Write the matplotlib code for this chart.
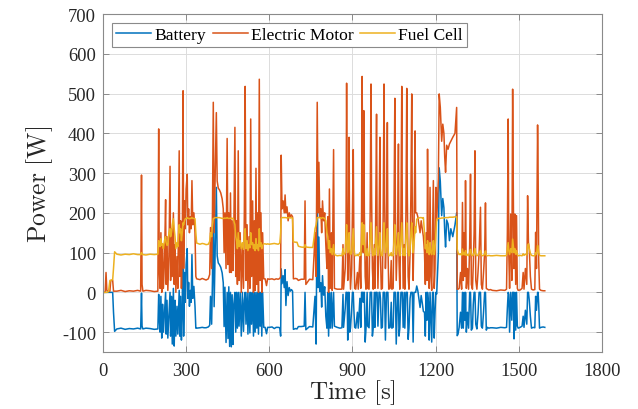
import matplotlib
matplotlib.use("Agg")
import matplotlib.pyplot as plt

# time axis [s] and the three power traces [W]
# (one row per stretch of the drive cycle so the lists stay aligned)
time_s = [
    0, 8, 11, 14, 20, 25, 28, 35, 38, 42, 50, 65, 80, 95, 110, 125, 136, 139, 141, 144, 155, 170, 185, 196,
    198, 201, 203, 206, 209, 212, 215, 218, 222, 226, 228, 231, 234, 238, 242, 244, 247, 250, 254, 257,
    260, 263, 267, 270, 275, 277, 280, 283, 286, 289, 291, 294, 297, 300, 304, 306, 309, 312, 315, 318,
    321, 324, 328, 332, 335,
    338, 350, 358, 365, 372, 380, 385,
    388, 392, 395, 398, 401, 404, 409, 412, 416, 420, 425, 430, 434, 437, 440, 444, 448, 451, 454, 457,
    460, 463, 466, 469, 472, 476, 479, 482, 485, 488, 491, 495, 499, 503, 507, 510, 513, 516, 520, 523,
    527, 530, 533, 536, 540, 543, 546, 549, 552, 555, 558, 561, 564, 567, 570, 573, 576, 580,
    585, 590, 594, 600, 610, 618, 625, 632, 638,
    641, 643, 646, 650, 654, 657, 660, 664, 668, 672, 676, 680, 684, 687, 695, 700, 705, 715, 726, 729,
    732, 745, 757,
    762, 765, 769, 773, 776, 779, 782, 786, 789, 792, 796, 800, 804, 808, 811, 814, 817, 820, 824, 827,
    832, 835,
    845, 855, 862, 866, 868, 874, 877, 879, 881, 883, 886, 888, 890, 893, 897, 900, 903, 905, 908, 912,
    918, 921, 927, 930, 933, 935, 937, 939, 941, 943, 946, 949, 953, 955, 960, 964, 967, 969, 972, 975,
    979, 981, 984, 987, 989, 992, 996, 999, 1001, 1004, 1008, 1011, 1014, 1016, 1019, 1023, 1026, 1028,
    1031, 1036, 1040, 1042, 1047, 1050, 1053, 1055, 1058, 1063, 1066, 1068, 1071, 1075, 1078, 1080,
    1083, 1087, 1089, 1093, 1096, 1098, 1101, 1104, 1108, 1111, 1114, 1116, 1119, 1122, 1126, 1128,
    1132, 1136, 1140, 1144, 1148, 1152, 1156, 1160, 1163, 1166, 1169, 1171, 1174, 1177, 1180, 1183,
    1186, 1189, 1192, 1195, 1198, 1201, 1204, 1207, 1210, 1213, 1217, 1222, 1226, 1230, 1233, 1236,
    1240, 1245, 1250, 1255, 1262, 1270, 1276, 1278,
    1281, 1285, 1290, 1294, 1297, 1300, 1303, 1306, 1308, 1311, 1315, 1319, 1323, 1326, 1329, 1333,
    1336, 1339, 1342, 1345, 1349, 1353, 1357, 1362, 1365, 1369, 1373, 1377, 1380, 1383, 1387, 1392, 1398,
    1405, 1420, 1435, 1450, 1456, 1459, 1462, 1464, 1467, 1471, 1475, 1478, 1481, 1483, 1486, 1489,
    1492, 1495, 1498, 1505, 1512, 1516, 1519, 1524, 1529, 1532, 1535, 1538, 1542, 1546, 1552, 1558,
    1561, 1564, 1568, 1570, 1572, 1575, 1580, 1588, 1594,
]

battery_w = [
    0, 0, 0, 0, 0, 0, 0, 0, -50, -98, -92, -90, -93, -91, -92, -90, -92, -2, -85, -92, -90, -91, -93, -92,
    -92, -5, -60, -100, -10, -115, -30, -100, -50, 0, -105, -20, -115, -60, 0, -110, -10, -130, 10, -135,
    -20, -110, -35, -105, 5, -110, -10, -120, -50, 330, -110, 50, -25, 70, 110, -15, 25, -35, 5, -25,
    95, -15, 15, -35, -90,
    -90, -89, -88, -89, -89, -87, -83,
    -10, -80, 30, 290, -36, 72, 264, 92, 74, 70, 63, 49, 24, -86, 13, -126, 0, -116, 14, -136,
    0, -137, -6, -131, -30, 0, -100, 0, -90, 0, -85, 0, -110, 0, -98, -20, 0, -80, 0, -105,
    0, -102, 0, -80, 0, -110, 0, -100, 0, -90, 0, -105, 0, -85, 0, -110, 0, -88,
    -88, -104, -88, -88, -87, -91, -88, -88, -89,
    -110, 59, 22, 42, 12, 57, -33, 27, -8, 12, 3, 7, 3, -93, -91, -92, -86, -86, -85, 0,
    -94, -86, -87,
    -40, -10, -130, 290, 12, 139, 2, 24, -37, 42, -7, 14, -60, -90, 0, -110, 0, -90, 0, -90,
    0, -85,
    -88, -90, -89, -5, -88, -40, 0, 0, 0, -120, 0, 0, -100, -90, -45, 0, 0, -40, -88, -90,
    -50, -90, -15, -88, 0, 0, 0, -25, 0, 0, -125, -90, 0, -85, -89, 0, 0, 0, -110, -90,
    0, -88, 0, 0, 0, -85, 0, 0, -15, -90, -88, 0, 0, 0, -120, 0, 0, 0,
    -90, -88, -25, -90, -88, 0, 0, 0, -130, 0, 0, -110, -90, 0, 0, 0,
    -88, 0, -90, 0, 0, 0, -118, -90, -15, 0, 0, 0, -125, 0, 0, 0,
    16, 4, -17, -38, -8, -27, -48, -50, -110, 0, -70, 0, -25, -120, 0, -60,
    -125, 0, 0, -115, -50, 0, -4, 45, 99, 313, 279, 193, 236, 213, 152, 114,
    182, 172, 130, 160, 140, 170, 200, -109,
    -105, -88, -50, -90, 0, -90, 0, -70, 0, -100, -50, -90, 0, 0, -95, -90,
    -30, 0, 0, -80, -92, -55, 0, 0, -85, -90, -50, 0, 0, -95, -88, -90, -89,
    -89, -90, -88, -89, -88, -40, 0, -5, -100, 0, -70, 0, 0, -117, 0, -95,
    0, -85, -90, -88, -85, -60, -88, -45, -80, 0, 0, -20, -60, -90, -88, -89,
    -10, -45, 0, 0, -30, -90, -88, -87, -88,
]

motor_w = [
    0, 0, 50, 5, 2, 3, 30, 30, 3, 3, 3, 5, 2, 4, 3, 5, 3, 295, 20, 3, 5, 4, 2, 3,
    3, 411, 60, 10, 150, 0, 120, 10, 80, 233, 20, 140, 5, 90, 317, 30, 160, 40, 200, 20,
    120, 0, 90, 10, 356, 40, 180, 10, 100, 507, 60, 230, 160, 260, 297, 170, 210, 150, 190, 160,
    281, 170, 200, 150, 40,
    34, 32, 35, 33, 31, 34, 45,
    163, 60, 200, 478, 150, 260, 452, 280, 262, 258, 250, 235, 210, 100, 200, 60, 387, 70, 200, 50,
    250, 50, 180, 55, 150, 415, 40, 180, 20, 356, 30, 150, 0, 120, 10, 200, 518, 30, 170, 0,
    140, 10, 436, 40, 230, 0, 180, 5, 312, 20, 200, 0, 536, 30, 200, 0, 150, 34,
    34, 17, 34, 33, 34, 32, 34, 33, 35,
    40, 345, 210, 230, 200, 245, 200, 215, 180, 200, 190, 195, 190, 34, 35, 34, 30, 33, 33, 230,
    20, 33, 32,
    100, 150, 40, 478, 200, 327, 190, 210, 150, 230, 180, 200, 120, 60, 190, 0, 260, 10, 150, 5,
    359, 10,
    8, 8, 8, 120, 8, 60, 180, 526, 200, 30, 150, 390, 100, 8, 60, 200, 359, 150, 10, 8,
    50, 8, 90, 10, 200, 543, 250, 100, 457, 200, 40, 8, 150, 10, 8, 200, 524, 250, 60, 8,
    120, 10, 200, 448, 150, 10, 150, 390, 100, 8, 10, 200, 524, 250, 60, 150, 427, 120,
    8, 10, 80, 8, 10, 200, 488, 200, 30, 150, 373, 80, 8, 200, 518, 200,
    10, 120, 8, 200, 513, 250, 40, 8, 100, 250, 499, 200, 30, 150, 406, 200,
    200, 190, 170, 150, 180, 160, 140, 100, 20, 150, 30, 360, 80, 10, 264, 40,
    5, 150, 281, 10, 60, 264, 180, 230, 285, 499, 465, 380, 423, 400, 340, 302,
    370, 360, 373, 380, 390, 400, 465, 8,
    8, 10, 50, 8, 226, 30, 150, 40, 281, 10, 60, 8, 120, 297, 20, 8,
    70, 150, 356, 30, 8, 50, 100, 214, 20, 8, 50, 100, 225, 10, 8, 6, 7,
    5, 4, 6, 5, 8, 150, 436, 100, 10, 197, 30, 511, 197, 60, 197, 20,
    193, 10, 5, 6, 10, 50, 8, 60, 20, 243, 126, 110, 40, 8, 6, 7,
    151, 60, 421, 293, 80, 8, 5, 4, 4,
]

fuel_cell_w = [
    0, 0, 0, 0, 2, 30, 30, 32, 60, 102, 96, 94, 96, 95, 97, 95, 95, 100, 97, 95, 94, 96, 95, 96,
    96, 130, 125, 115, 135, 118, 122, 110, 130, 140, 125, 118, 120, 150, 160, 140, 150, 170, 185, 160,
    140, 110, 125, 115, 170, 150, 160, 130, 150, 175, 170, 180, 185, 186, 188, 186, 186, 185, 186, 186,
    188, 186, 186, 185, 150,
    124, 121, 123, 122, 120, 121, 128,
    150, 140, 170, 186, 186, 188, 188, 188, 188, 188, 187, 186, 186, 186, 187, 186, 188, 186, 186, 186,
    186, 187, 186, 186, 180, 170, 140, 130, 110, 150, 115, 130, 110, 125, 108, 140, 160, 110, 130, 105,
    120, 112, 150, 120, 125, 110, 120, 105, 135, 110, 120, 105, 160, 115, 125, 110, 118, 122,
    122, 121, 122, 121, 122, 123, 122, 121, 124,
    150, 186, 188, 188, 188, 188, 188, 187, 188, 188, 187, 188, 187, 127, 126, 126, 116, 114, 113, 120,
    114, 113, 113,
    140, 160, 170, 188, 188, 188, 188, 186, 187, 188, 187, 186, 180, 150, 140, 110, 130, 100, 110, 95,
    120, 95,
    92, 93, 92, 110, 95, 100, 140, 170, 130, 100, 120, 150, 110, 95, 100, 130, 160, 120, 95, 92,
    95, 92, 100, 93, 130, 175, 140, 120, 170, 130, 100, 93, 110, 92, 93, 140, 175, 140, 100, 92,
    110, 94, 130, 165, 120, 93, 120, 150, 110, 92, 93, 130, 175, 140, 100, 120, 160, 110,
    92, 93, 100, 92, 93, 130, 170, 130, 95, 120, 150, 105, 92, 140, 175, 130,
    93, 110, 92, 140, 175, 140, 100, 92, 110, 150, 175, 140, 100, 120, 165, 150,
    184, 186, 187, 188, 188, 187, 188, 150, 110, 120, 100, 130, 105, 95, 125, 100,
    95, 110, 130, 95, 110, 150, 184, 185, 186, 186, 186, 187, 187, 187, 188, 188,
    188, 188, 189, 189, 189, 190, 190, 109,
    100, 95, 97, 93, 109, 95, 100, 94, 105, 93, 95, 92, 100, 108, 95, 92,
    94, 100, 110, 95, 92, 94, 98, 105, 94, 92, 93, 96, 104, 93, 92, 93, 92,
    92, 93, 92, 92, 93, 110, 125, 105, 95, 110, 100, 134, 115, 100, 110, 96,
    105, 95, 92, 93, 92, 97, 93, 96, 94, 115, 122, 110, 98, 93, 92, 92,
    100, 96, 118, 110, 100, 93, 92, 92, 92,
]

series_names = ["Battery", "Electric Motor", "Fuel Cell"]
x_ticks = [0, 300, 600, 900, 1200, 1500, 1800]
y_ticks = [-100, 0, 100, 200, 300, 400, 500, 600, 700]

# MATLAB default line colours
colors = ["#0072BD", "#D95319", "#EDB120"]

assert len(time_s) == len(battery_w) == len(motor_w) == len(fuel_cell_w), \
    (len(time_s), len(battery_w), len(motor_w), len(fuel_cell_w))

plt.rcParams["font.family"] = ["Liberation Serif", "DejaVu Serif"]
plt.rcParams["mathtext.fontset"] = "cm"

fig = plt.figure(figsize=(6.38, 4.10), dpi=100)
ax = fig.add_axes([0.1614, 0.139, 0.782, 0.8244])

for y, c, name in zip([battery_w, motor_w, fuel_cell_w], colors, series_names):
    ax.plot(time_s, y, color=c, lw=1.1, label=name)

ax.set_xlim(0, 1800)
ax.set_ylim(-150, 700)
ax.set_xticks(x_ticks)
ax.set_yticks(y_ticks)
ax.set_xticklabels([str(v) for v in x_ticks])
ax.set_yticklabels([str(v) for v in y_ticks])

ax.grid(True, color="#dcdcdc", lw=0.7)
ax.set_axisbelow(True)
for s in ax.spines.values():
    s.set_color("#8a8a8a")
    s.set_linewidth(0.8)
ax.tick_params(direction="in", length=4, width=0.7, color="#8a8a8a",
               top=True, right=True, labelsize=13.3, labelcolor="#262626")
ax.tick_params(axis="x", pad=7)
ax.tick_params(axis="y", pad=5)

ax.set_xlabel(r"$\mathrm{Time\ [s]}$", fontsize=18, color="#262626", labelpad=-1)
ax.set_ylabel(r"$\mathrm{Power\ [W]}$", fontsize=18.5, color="#262626", labelpad=5)

leg = ax.legend(loc="upper left", bbox_to_anchor=(0.012, 0.985), ncol=3, fontsize=12.6,
                frameon=True, fancybox=False, edgecolor="#8a8a8a", framealpha=1,
                handlelength=2.0, handletextpad=0.2, columnspacing=0.35,
                borderpad=0.22, borderaxespad=0.2)
leg.get_frame().set_linewidth(0.8)

fig.savefig("out.png", dpi=100)
